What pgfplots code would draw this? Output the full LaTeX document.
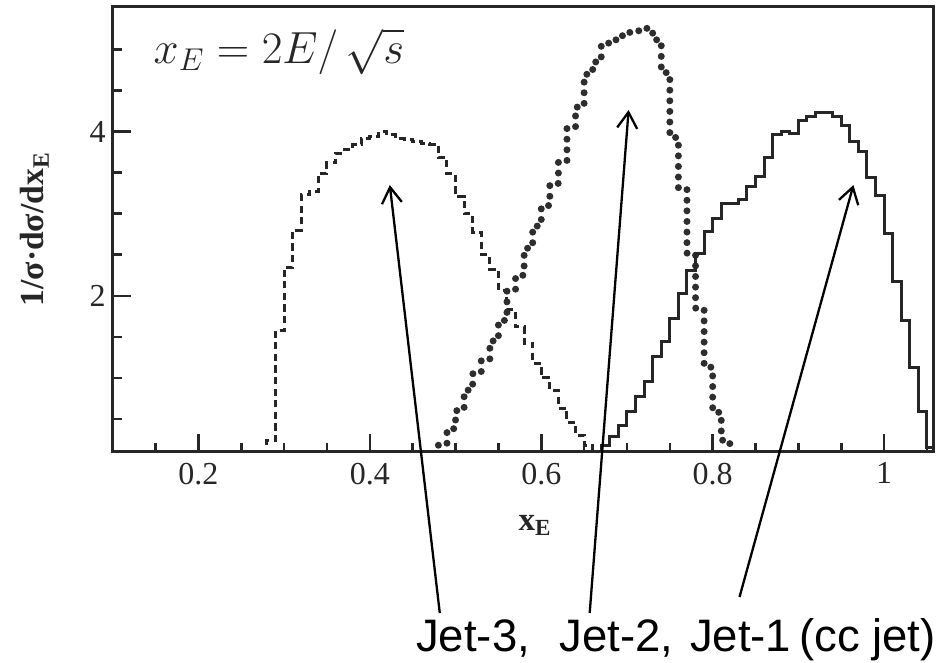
\RequirePackage{fix-cm}
\documentclass[border=0pt]{standalone}
\usepackage{fontspec}
\setmainfont{Liberation Serif}
\newfontfamily\annfont{Liberation Sans}
\usepackage{pgfplots}
\pgfplotsset{compat=1.18}
\usetikzlibrary{arrows.meta}

\colorlet{ink}{black!85}

\begin{document}
\begin{tikzpicture}
\useasboundingbox (0,0) rectangle (473.5pt,331.5pt);
\begin{axis}[
  at={(56.35pt,105.65pt)}, anchor=south west,
  scale only axis, width=410.3pt, height=222.35pt,
  xmin=0.1, xmax=1.0574, ymin=0.1, ymax=5.52,
  clip mode=individual,
  axis line style={line width=1.5pt, ink},
  tick align=inside, tick pos=left,
  xtick={0.2,0.4,0.6,0.8,1}, xticklabels={0.2,0.4,0.6,0.8,1},
  minor xtick={0.15,0.25,0.3,0.35,0.45,0.5,0.55,0.65,0.7,0.75,0.85,0.9,0.95,1.05},
  ytick={2,4}, yticklabels={2,4},
  minor ytick={0.5,1,1.5,2.5,3,3.5,4.5,5},
  major tick length=9pt, minor tick length=4.5pt,
  every tick/.append style={line width=1.3pt, ink},
  /pgf/number format/assume math mode=true,
  tick label style={font=\fontsize{16}{18}\selectfont, ink},
  xticklabel style={yshift=-2pt},
  xlabel={x\textsubscript{E}},
  xlabel style={font=\fontsize{16.5}{18}\selectfont\bfseries, ink,
    at={(axis description cs:0.5146,-0.165)}, anchor=center},
  ylabel={1/σ·dσ/dx\textsubscript{E}},
  ylabel style={font=\fontsize{16.8}{18}\selectfont\bfseries, ink,
    at={(axis description cs:-0.095,0.5)}, anchor=center},
]

% Jet-3: dashed histogram, 0.01 bins (left edges)
\addplot[const plot mark left, ink, line width=1.5pt,
  dash pattern=on 3.6pt off 2.2pt] coordinates {
  (0.27,0) (0.28,0.24) (0.29,1.58) (0.30,2.35) (0.31,2.80) (0.32,3.23)
  (0.33,3.27) (0.34,3.49) (0.35,3.62) (0.36,3.74) (0.37,3.78) (0.38,3.84)
  (0.39,3.92) (0.40,3.94) (0.41,4.00) (0.42,3.96) (0.43,3.92) (0.44,3.91)
  (0.45,3.88) (0.46,3.86) (0.47,3.85) (0.48,3.68) (0.49,3.49) (0.50,3.21)
  (0.51,3.00) (0.52,2.77) (0.53,2.50) (0.54,2.32) (0.55,2.07) (0.56,1.83)
  (0.57,1.62) (0.58,1.42) (0.59,1.18) (0.60,1.00) (0.61,0.84) (0.62,0.63)
  (0.63,0.46) (0.64,0.30) (0.65,0.18) (0.66,0)
};

% Jet-2: dotted histogram
\addplot[const plot mark left, black!82, line width=3.5pt, line cap=round,
  dash pattern=on 0pt off 5.3pt] coordinates {
  (0.46,0) (0.47,0.05) (0.48,0.18) (0.49,0.38) (0.50,0.60) (0.51,0.85)
  (0.52,1.05) (0.53,1.22) (0.54,1.45) (0.55,1.70) (0.56,2.08) (0.57,2.25)
  (0.58,2.58) (0.59,2.85) (0.60,3.10) (0.61,3.37) (0.62,3.63) (0.63,4.05)
  (0.64,4.30) (0.65,4.70) (0.66,4.85) (0.67,5.08) (0.68,5.12) (0.69,5.17)
  (0.70,5.21) (0.71,5.23) (0.72,5.26) (0.73,5.12) (0.74,4.72) (0.75,3.93)
  (0.76,3.30) (0.77,2.52) (0.78,1.85) (0.79,1.13) (0.80,0.58) (0.81,0.24)
  (0.82,0)
};

% Jet-1 (cc jet): solid histogram
\addplot[const plot mark left, ink, line width=1.5pt] coordinates {
  (0.66,0) (0.67,0.17) (0.68,0.28) (0.69,0.42) (0.70,0.59) (0.71,0.77)
  (0.72,0.95) (0.73,1.26) (0.74,1.44) (0.75,1.72) (0.76,2.03) (0.77,2.31)
  (0.78,2.52) (0.79,2.78) (0.80,2.94) (0.81,3.13) (0.82,3.13) (0.83,3.17)
  (0.84,3.33) (0.85,3.46) (0.86,3.68) (0.87,3.96) (0.88,4.00) (0.89,3.98)
  (0.90,4.14) (0.91,4.18) (0.92,4.23) (0.93,4.23) (0.94,4.18) (0.95,4.08)
  (0.96,3.88) (0.97,3.76) (0.98,3.44) (0.99,3.22) (1.00,2.76) (1.01,2.17)
  (1.02,1.70) (1.03,1.13) (1.04,0.59) (1.05,0.15) (1.06,0)
};

% definition of the variable
\node[anchor=base west, inner sep=0pt, ink, font=\fontsize{22.5}{26}\selectfont]
  at (axis description cs:0.0495,0.8734) {$x_E = 2E/\,\sqrt{s}$};

% pointers from the caption to each curve
\begin{scope}[black, line width=1.15pt, -{Straight Barb[length=8pt,width=10pt]}]
  \draw (axis cs:0.4816,-1.866) -- (axis cs:0.4233,3.35);
  \draw (axis cs:0.6565,-1.866) -- (axis cs:0.7019,4.264);
  \draw (axis cs:0.8313,-1.671) -- (axis cs:0.9642,3.35);
\end{scope}
\node[anchor=base west, inner sep=0pt, black]
  at (axis cs:0.4536,-2.341)
  {\annfont\fontsize{22.75}{26}\selectfont Jet-3,\hspace{14.7pt}Jet-2,\hspace{8.5pt}Jet-1\hspace{4pt}(cc jet)};
\end{axis}
\end{tikzpicture}
\end{document}
